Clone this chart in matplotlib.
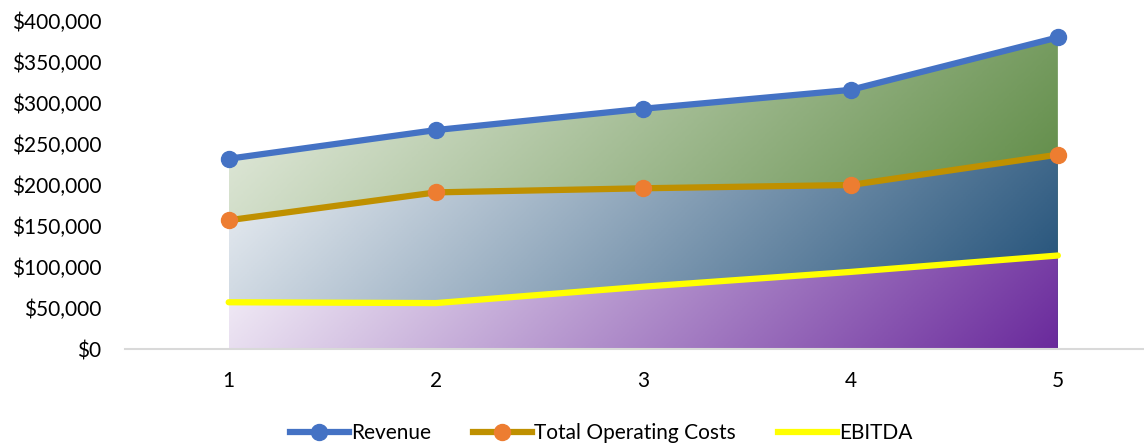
import matplotlib.pyplot as plt
import numpy as np
from matplotlib.colors import LinearSegmentedColormap
from matplotlib.ticker import FuncFormatter
from matplotlib.lines import Line2D

plt.rcParams['font.family'] = ['Lato', 'DejaVu Sans']

years    = [1, 2, 3, 4, 5]
revenue  = [232000, 267000, 293000, 316000, 380000]
op_costs = [157000, 191000, 196000, 200000, 237000]
ebitda   = [57000, 56000, 76000, 94000, 114000]

W_PX, H_PX = 1144, 446
fig = plt.figure(figsize=(W_PX / 100, H_PX / 100), dpi=100)
ax = fig.add_axes([125 / W_PX, 97 / H_PX, 1 - 125 / W_PX, 328 / H_PX])

x = np.array(years, dtype=float)
xmin, xmax = 0.5, 5.0 + (1143 - 1057) / 207.0
ymax = 400000
ax.set_xlim(xmin, xmax)
ax.set_ylim(0, ymax)

# pixel scale of the data, to make the gradient run at 45 degrees on screen
px_per_x = (W_PX - 125) / (xmax - xmin)
px_per_y = 328 / ymax


def gradient_area(ax, x, y, c0, c1):
    # area from 0 to y with a diagonal gradient (light top-left -> dark bottom-right)
    poly = ax.fill_between(x, 0, y, color='none', lw=0)
    top = max(y)
    w = (x[-1] - x[0]) * px_per_x
    h = top * px_per_y
    U, V = np.meshgrid(np.linspace(0, 1, 400), np.linspace(0, 1, 200))
    T = (U * w + V * h) / (w + h)  # V = 0 at top (origin upper)
    cmap = LinearSegmentedColormap.from_list('g', [c0, c1])
    im = ax.imshow(T, cmap=cmap, vmin=0, vmax=1, extent=[x[0], x[-1], 0, top],
                   origin='upper', aspect='auto', interpolation='bilinear', zorder=1)
    im.set_clip_path(poly.get_paths()[0], transform=ax.transData)


gradient_area(ax, x, revenue, '#ecf1e7', '#4a7c2e')
gradient_area(ax, x, op_costs, '#eef1f5', '#174872')
gradient_area(ax, x, ebitda, '#f6f2f9', '#6a2a9c')

ax.plot(x, revenue, color='#4472c4', lw=4.5, marker='o', ms=11.5,
        solid_capstyle='round', zorder=5)
ax.plot(x, op_costs, color='#bf9000', lw=4.5, marker='o', ms=11.5,
        markerfacecolor='#ed7d31', markeredgecolor='#ed7d31',
        solid_capstyle='round', zorder=5)
ax.plot(x, ebitda, color='#ffff00', lw=4.5, solid_capstyle='round', zorder=5)

ax.set_xticks(years)
ax.set_yticks(np.arange(0, 400001, 50000))
ax.yaxis.set_major_formatter(FuncFormatter(lambda v, p: '${:,.0f}'.format(v)))
ax.tick_params(axis='both', length=0, labelsize=15, colors='#000000')
ax.tick_params(axis='y', pad=17)
ax.tick_params(axis='x', pad=16)
for s in ['top', 'right', 'left']:
    ax.spines[s].set_visible(False)
ax.spines['bottom'].set_color('#d9d9d9')
ax.spines['bottom'].set_linewidth(1.5)
ax.spines['bottom'].set_zorder(6)

handles = [
    Line2D([], [], color='#4472c4', lw=4.5, marker='o', ms=11.5),
    Line2D([], [], color='#bf9000', lw=4.5, marker='o', ms=11.5,
           markerfacecolor='#ed7d31', markeredgecolor='#ed7d31'),
    Line2D([], [], color='#ffff00', lw=4.5),
]
fig.legend(handles, ['Revenue', 'Total Operating Costs', 'EBITDA'],
           loc='center', bbox_to_anchor=(601 / W_PX, 1 - 433 / H_PX), ncol=3,
           frameon=False, fontsize=15, handlelength=2.85, handletextpad=0.1,
           columnspacing=2.0, borderaxespad=0)

fig.savefig('out.png', dpi=100)
